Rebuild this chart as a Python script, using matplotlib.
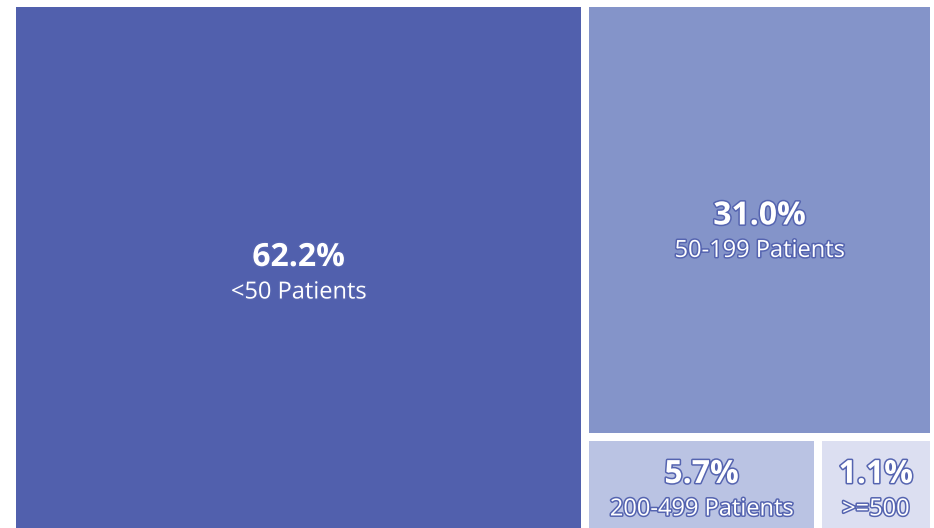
import matplotlib
matplotlib.use("Agg")
import matplotlib.pyplot as plt
import matplotlib.patheffects as pe
from matplotlib.patches import Rectangle

# Share of sites by patient volume
labels = ["<50 Patients", "50-199 Patients", "200-499 Patients", ">=500"]
shares = [62.2, 31.0, 5.7, 1.1]
colors = ["#5160AD", "#8494C9", "#BAC3E3", "#DCDFF1"]

W, H = 934, 528
fig = plt.figure(figsize=(W / 100, H / 100), dpi=100)
ax = fig.add_axes([0, 0, 1, 1])
ax.set_xlim(0, W)
ax.set_ylim(H, 0)
ax.axis("off")

# container (pixels), gap between tiles
box = (12, 3, 922, 529)
gap = 4
min_share = 1 / 3  # smallest tiles get at least a third of their row


def split(vals):
    fr = [v / sum(vals) for v in vals]
    small = [f < min_share for f in fr]
    if len(vals) > 1 and any(small):
        rest = 1 - min_share * sum(small)
        tot = sum(f for f, s in zip(fr, small) if not s)
        fr = [min_share if s else f / tot * rest for f, s in zip(fr, small)]
    return fr


# left column: first item; right column: top item + bottom row
x0, y0, bw, bh = box
fl = shares[0] / sum(shares)
tiles = [(x0, y0, bw * fl, bh)]
rx, rw = x0 + bw * fl, bw * (1 - fl)
ft = shares[1] / sum(shares[1:])
tiles.append((rx, y0, rw, bh * ft))
by, bh2 = y0 + bh * ft, bh * (1 - ft)
cx = rx
for f in split(shares[2:]):
    tiles.append((cx, by, rw * f, bh2))
    cx += rw * f

outline = [pe.withStroke(linewidth=2.2, foreground="#5564B0")]
for i, ((x, y, w, h), lab, v, c) in enumerate(zip(tiles, labels, shares, colors)):
    ax.add_patch(Rectangle((x + gap, y + gap), w - 2 * gap, h - 2 * gap,
                           facecolor=c, edgecolor="none"))
    mx, my = x + w / 2, y + h / 2
    if i == 1:
        my += 6
    ax.text(mx, my - 10, f"{v:.1f}%", ha="center", va="center", color="white",
            fontsize=23, fontweight="bold", family="Open Sans", path_effects=outline)
    ax.text(mx, my + 25, lab, ha="center", va="center", color="white",
            fontsize=17, family="Open Sans", path_effects=outline)

fig.savefig("out.png", dpi=100)
